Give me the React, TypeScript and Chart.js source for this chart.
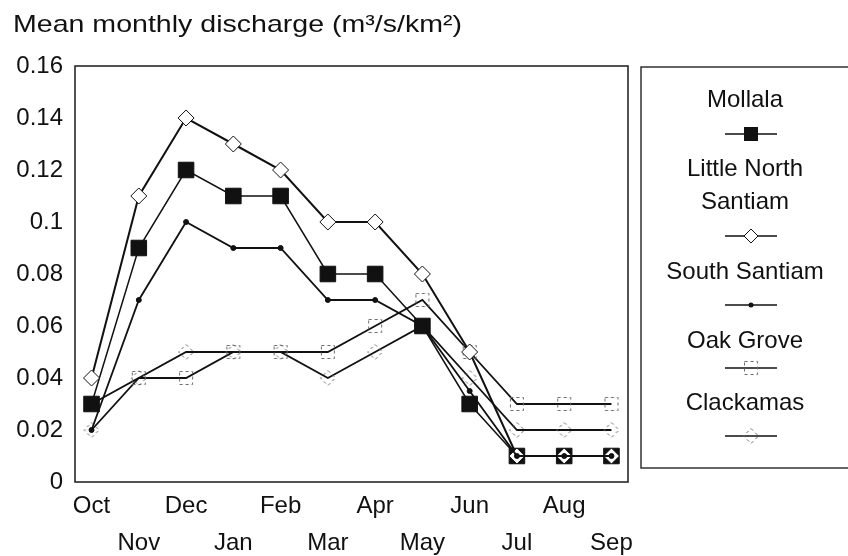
import React, { useEffect, useRef } from 'react';
import { Chart, registerables } from 'chart.js';

Chart.register(...registerables);

const months = ['Oct', 'Nov', 'Dec', 'Jan', 'Feb', 'Mar', 'Apr', 'May', 'Jun', 'Jul', 'Aug', 'Sep'];
const seriesNames = ['Mollala', 'Little North Santiam', 'South Santiam', 'Oak Grove', 'Clackamas'];
const legendLines = [['Mollala'], ['Little North', 'Santiam'], ['South Santiam'], ['Oak Grove'], ['Clackamas']];
const mollala = [0.03, 0.09, 0.12, 0.11, 0.11, 0.08, 0.08, 0.06, 0.03, 0.01, 0.01, 0.01];
const littleNorthSantiam = [0.04, 0.11, 0.14, 0.13, 0.12, 0.10, 0.10, 0.08, 0.05, 0.01, 0.01, 0.01];
const southSantiam = [0.02, 0.07, 0.10, 0.09, 0.09, 0.07, 0.07, 0.06, 0.035, 0.01, 0.01, 0.01];
const oakGrove = [0.03, 0.04, 0.04, 0.05, 0.05, 0.05, 0.06, 0.07, 0.05, 0.03, 0.03, 0.03];
const clackamas = [0.02, 0.04, 0.05, 0.05, 0.05, 0.04, 0.05, 0.06, 0.04, 0.02, 0.02, 0.02];
const yTicks = [0, 0.02, 0.04, 0.06, 0.08, 0.1, 0.12, 0.14, 0.16];
const titleText = 'Mean monthly discharge (m³/s/km²)';

const FONT = '"Liberation Sans", Arial, sans-serif';
const INK = '#111';

function makeDashedMarker(kind: 'square' | 'diamond'): HTMLCanvasElement {
  const c = document.createElement('canvas');
  c.width = 18;
  c.height = 18;
  const g = c.getContext('2d')!;
  g.strokeStyle = '#6a6a6a';
  g.lineWidth = 1;
  g.setLineDash([3, 3]);
  g.beginPath();
  if (kind === 'square') {
    g.rect(2.5, 2.5, 13, 13);
  } else {
    g.moveTo(9, 1.5);
    g.lineTo(16.5, 9);
    g.lineTo(9, 16.5);
    g.lineTo(1.5, 9);
    g.closePath();
  }
  g.stroke();
  return c;
}

function fmt(v: number) {
  return String(Number(v.toFixed(2)));
}

export default function App() {
  const ref = useRef<HTMLCanvasElement | null>(null);

  useEffect(() => {
    if (!ref.current) return;
    const dashedSquare = makeDashedMarker('square');
    const dashedDiamond = makeDashedMarker('diamond');
    const toPts = (arr: number[]) => arr.map((y, i) => ({ x: i, y }));

    const styles = [
      { pointStyle: 'rect', pointRadius: 11, pointBackgroundColor: INK, pointBorderColor: INK, borderWidth: 1.5, order: 2 },
      { pointStyle: 'rectRot', pointRadius: 8, pointBackgroundColor: '#fff', pointBorderColor: INK, borderWidth: 2, order: 1 },
      { pointStyle: 'circle', pointRadius: 2.5, pointBackgroundColor: INK, pointBorderColor: INK, borderWidth: 1.8, order: 0 },
      { pointStyle: dashedSquare, pointRadius: 9, borderWidth: 1.8, order: 3 },
      { pointStyle: dashedDiamond, pointRadius: 9, borderWidth: 1.8, order: 4 },
    ];
    const values = [mollala, littleNorthSantiam, southSantiam, oakGrove, clackamas];

    const decor = {
      id: 'decor',
      afterDraw(chart: any) {
        const ctx = chart.ctx as CanvasRenderingContext2D;
        const a = chart.chartArea;
        ctx.save();
        // plot frame
        ctx.strokeStyle = '#1a1a1a';
        ctx.lineWidth = 1.5;
        ctx.strokeRect(a.left, a.top, a.right - a.left, a.bottom - a.top);

        // title
        ctx.fillStyle = INK;
        ctx.font = `24px ${FONT}`;
        ctx.textAlign = 'left';
        ctx.textBaseline = 'alphabetic';
        const w = ctx.measureText(titleText).width;
        ctx.save();
        ctx.translate(13, 31.5);
        ctx.scale(449 / w, 1);
        ctx.fillText(titleText, 0, 0);
        ctx.restore();

        // legend box
        ctx.strokeStyle = '#333';
        ctx.lineWidth = 1.5;
        ctx.strokeRect(641, 67, 220, 401);

        const textY = [[99], [168, 201], [271], [340], [402]];
        const markerY = [134, 236, 305, 368, 436];
        ctx.font = `24px ${FONT}`;
        ctx.textAlign = 'center';
        ctx.textBaseline = 'middle';
        legendLines.forEach((lines, i) => {
          lines.forEach((t, j) => {
            ctx.fillStyle = INK;
            ctx.fillText(t, 745, textY[i][j] + 1);
          });
          const my = markerY[i];
          ctx.strokeStyle = INK;
          ctx.lineWidth = 1.5;
          ctx.beginPath();
          ctx.moveTo(725, my);
          ctx.lineTo(777, my);
          ctx.stroke();
          const cx = 751;
          if (i === 0) {
            ctx.fillStyle = INK;
            ctx.fillRect(cx - 7, my - 7, 14, 14);
          } else if (i === 1) {
            ctx.fillStyle = '#fff';
            ctx.lineWidth = 1;
            ctx.beginPath();
            ctx.moveTo(cx, my - 7);
            ctx.lineTo(cx + 7, my);
            ctx.lineTo(cx, my + 7);
            ctx.lineTo(cx - 7, my);
            ctx.closePath();
            ctx.fill();
            ctx.stroke();
          } else if (i === 2) {
            ctx.fillStyle = INK;
            ctx.beginPath();
            ctx.arc(cx, my, 2.5, 0, Math.PI * 2);
            ctx.fill();
          } else if (i === 3) {
            ctx.drawImage(dashedSquare, cx - 9, my - 9);
          } else {
            ctx.drawImage(dashedDiamond, cx - 9, my - 9);
          }
        });
        ctx.restore();
      },
    };

    const chart = new Chart(ref.current, {
      type: 'line',
      data: {
        datasets: seriesNames.map((name, i) => ({
          label: name,
          data: toPts(values[i]),
          borderColor: INK,
          backgroundColor: INK,
          pointBorderWidth: 1,
          tension: 0,
          fill: false,
          ...(styles[i] as any),
        })),
      },
      options: {
        animation: false,
        responsive: false,
        devicePixelRatio: 1,
        layout: { padding: { left: 0, top: 66, right: 220, bottom: 0 } },
        plugins: { legend: { display: false }, title: { display: false }, tooltip: { enabled: false } },
        scales: {
          x: {
            type: 'linear',
            min: -0.35,
            max: 11.35,
            grid: { display: false, drawTicks: false },
            border: { display: false },
            afterBuildTicks: (s: any) => {
              s.ticks = months.map((_, i) => ({ value: i }));
            },
            afterFit: (s: any) => {
              s.height = 74;
            },
            ticks: {
              autoSkip: false,
              maxRotation: 0,
              minRotation: 0,
              padding: 6,
              color: INK,
              font: { family: FONT, size: 24, lineHeight: 1.54 },
              callback: (v: any) => {
                const i = Math.round(Number(v));
                const m = months[i] ?? '';
                return i % 2 === 0 ? m : ['', m];
              },
            },
          },
          y: {
            min: 0,
            max: 0.16,
            grid: { display: false, drawTicks: false },
            border: { display: false },
            afterBuildTicks: (s: any) => {
              s.ticks = yTicks.map((v) => ({ value: v }));
            },
            afterFit: (s: any) => {
              s.width = 75;
            },
            ticks: {
              padding: 12,
              color: INK,
              font: { family: FONT, size: 24 },
              callback: (v: any) => fmt(Number(v)),
            },
          },
        },
      },
      plugins: [decor],
    } as any);

    return () => chart.destroy();
  }, []);

  return (
    <div style={{ position: 'absolute', left: 0, top: 0, width: 848, height: 556, background: '#fff' }}>
      <canvas ref={ref} width={848} height={556} style={{ width: 848, height: 556 }} />
    </div>
  );
}
